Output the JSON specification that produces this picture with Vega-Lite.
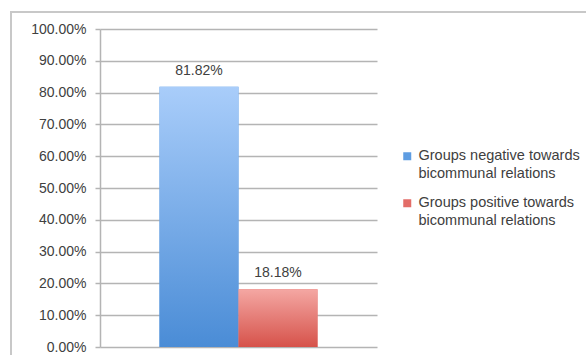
{
  "$schema": "https://vega.github.io/schema/vega-lite/v6.json",
  "autosize": {"type": "none"},
  "width": 576,
  "height": 345,
  "padding": {"left": 11, "top": 12, "right": 0, "bottom": 0},
  "background": "white",
  "data": {
    "values": [
      {"series": "Groups negative towards|bicommunal relations", "share": 0.8182},
      {"series": "Groups positive towards|bicommunal relations", "share": 0.1818}
    ]
  },
  "encoding": {
    "x": {
      "field": "series",
      "type": "nominal",
      "sort": null,
      "scale": {"paddingInner": 0, "paddingOuter": 0.753, "range": [89, 366]},
      "axis": null
    },
    "y": {
      "field": "share",
      "type": "quantitative",
      "scale": {"domain": [0, 1], "nice": false, "range": [335, 17]},
      "axis": {
        "format": ".2%",
        "offset": -89,
        "values": [0, 0.1, 0.2, 0.3, 0.4, 0.5, 0.6, 0.7, 0.8, 0.9, 1],
        "title": null,
        "grid": true,
        "gridColor": "#b4b4b4",
        "gridWidth": 1.5,
        "domainColor": "#b4b4b4",
        "domainWidth": 1.5,
        "tickColor": "#b4b4b4",
        "tickWidth": 1.5,
        "tickSize": 5,
        "labelPadding": 9,
        "labelFont": "Liberation Sans",
        "labelFontSize": 14,
        "labelColor": "#404040"
      }
    }
  },
  "layer": [
    {
      "mark": {"type": "bar"},
      "encoding": {
        "color": {
          "field": "series",
          "type": "nominal",
          "sort": null,
          "scale": {"range": ["#5e9de2", "#e36d68"]},
          "legend": {
            "title": null,
            "orient": "none",
            "legendX": 389,
            "legendY": 137,
            "symbolType": "square",
            "symbolSize": 64,
            "symbolStrokeWidth": 0,
            "labelExpr": "split(datum.label, '|')",
            "labelFont": "Liberation Sans",
            "labelFontSize": 14.5,
            "labelColor": "#404040",
            "labelLimit": 300,
            "rowPadding": 14,
            "labelOffset": 4,
            "encode": {"labels": {"update": {"lineHeight": {"value": 18}}}}
          }
        }
      }
    },
    {
      "transform": [{"filter": "indexof(datum.series, 'negative') >= 0"}],
      "mark": {
        "type": "bar",
        "color": {
          "gradient": "linear",
          "x1": 0, "y1": 0, "x2": 0, "y2": 1,
          "stops": [
            {"offset": 0, "color": "#a9cdfa"},
            {"offset": 1, "color": "#4a8cd6"}
          ]
        }
      }
    },
    {
      "transform": [{"filter": "indexof(datum.series, 'positive') >= 0"}],
      "mark": {
        "type": "bar",
        "color": {
          "gradient": "linear",
          "x1": 0, "y1": 0, "x2": 0, "y2": 1,
          "stops": [
            {"offset": 0, "color": "#f4a7a3"},
            {"offset": 1, "color": "#d6524a"}
          ]
        }
      }
    },
    {
      "mark": {
        "type": "text",
        "baseline": "bottom",
        "dy": -9,
        "font": "Liberation Sans",
        "fontSize": 14,
        "color": "#404040"
      },
      "encoding": {
        "text": {"field": "share", "type": "quantitative", "format": ".2%"}
      }
    }
  ],
  "config": {"view": {"stroke": "#c8c8c8", "strokeWidth": 2}}
}
